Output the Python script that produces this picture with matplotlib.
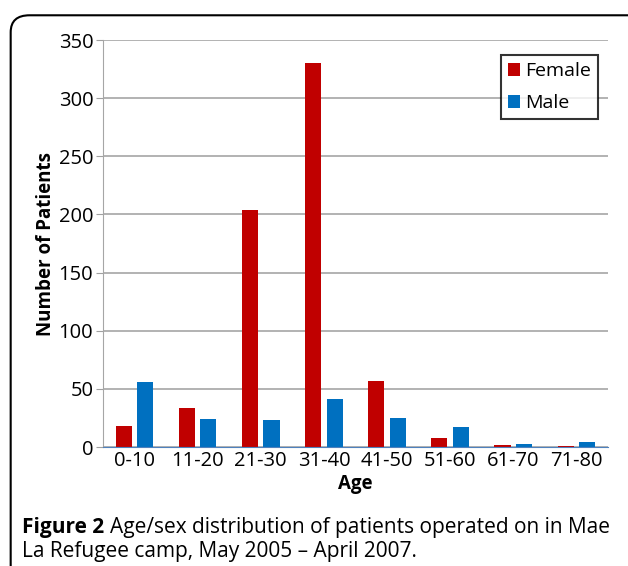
import numpy as np
import matplotlib
matplotlib.use('Agg')
import matplotlib.pyplot as plt
from matplotlib.patches import FancyBboxPatch

plt.rcParams['font.family'] = ['Open Sans', 'DejaVu Sans']

age_groups = ['0-10', '11-20', '21-30', '31-40', '41-50', '51-60', '61-70', '71-80']
female = [18, 34, 204, 330, 57, 8, 2, 1]
male = [56, 24, 23, 41, 25, 17, 3, 4]

fig = plt.figure(figsize=(6.28, 5.66), dpi=100)

# rounded frame round the figure
frame = FancyBboxPatch((0.017, -0.05), 1.05, 1.023, boxstyle='round,pad=0,rounding_size=0.03',
                       transform=fig.transFigure, fill=False, edgecolor='black', linewidth=1.5)
fig.patches.append(frame)

ax = fig.add_axes([0.164, 0.21, 0.804, 0.7193])
x = np.arange(len(age_groups))
w = 0.255
ax.bar(x - 0.17, female, w, color='#C00000', label='Female', zorder=3)
ax.bar(x + 0.17, male, w, color='#0070C0', label='Male', zorder=3)

ax.set_xlim(-0.5, 7.5)
ax.set_ylim(0, 350)
ax.set_yticks(range(0, 351, 50))
ax.set_xticks(x)
ax.set_xticklabels(age_groups)
ax.tick_params(axis='both', labelsize=14.5, colors='black')
ax.tick_params(axis='x', length=0, pad=3)
ax.tick_params(axis='y', length=5, color='#A0A0A0', pad=2)
ax.grid(axis='y', color='#A6A6A6', linewidth=1.2, zorder=0)
for s in ['top', 'right']:
    ax.spines[s].set_visible(False)
ax.spines['left'].set_color('#A6A6A6')
ax.spines['bottom'].set_color('#4F81BD')
ax.spines['bottom'].set_zorder(4)

ax.set_xlabel('Age', fontsize=13.5, fontweight='bold', labelpad=2)
ax.set_ylabel('Number of Patients', fontsize=13.5, fontweight='bold', labelpad=2)

leg = ax.legend(loc='upper right', bbox_to_anchor=(0.98, 0.963), fontsize=14,
                handlelength=0.65, handleheight=0.65, handletextpad=0.25,
                labelspacing=0.75, fancybox=False, borderpad=0.35, borderaxespad=0)
leg.get_frame().set_edgecolor('black')
leg.get_frame().set_linewidth(1.5)

# caption with bold "Figure 2"
t1 = fig.text(0.035, 1 - 527 / 566, 'Figure 2', fontsize=15, fontweight='bold', va='center')
fig.canvas.draw()
bb = t1.get_window_extent().transformed(fig.transFigure.inverted())
fig.text(bb.x1 + 0.009, 1 - 527 / 566, 'Age/sex distribution of patients operated on in Mae',
         fontsize=15, va='center')
fig.text(0.035, 1 - 552 / 566, 'La Refugee camp, May 2005 \u2013 April 2007.', fontsize=15, va='center')

fig.savefig('out.png', dpi=100)
